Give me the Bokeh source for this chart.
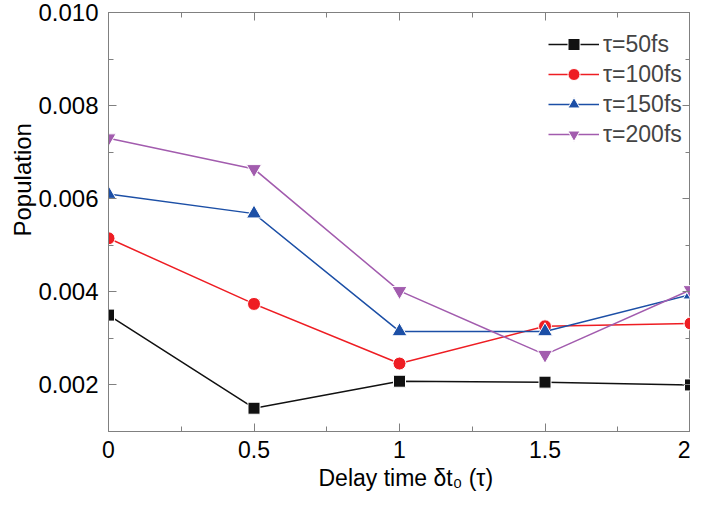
from bokeh.plotting import figure
from bokeh.models import (FixedTicker, LinearAxis, Legend, LegendItem, Title,
                          PrintfTickFormatter, CustomJSTickFormatter, Range1d)
from bokeh.embed import file_html
from bokeh.resources import INLINE

# ---- data ----
delay = [0, 0.5, 1, 1.5, 2]
pop_50 = [0.00350, 0.00150, 0.00208, 0.00206, 0.00200]
pop_100 = [0.00515, 0.00374, 0.00246, 0.00326, 0.00332]
pop_150 = [0.00610, 0.00568, 0.00315, 0.00315, 0.00394]
pop_200 = [0.00730, 0.00664, 0.00402, 0.00265, 0.00404]
series_labels = ["τ=50fs", "τ=100fs", "τ=150fs", "τ=200fs"]
x_ticks = [0, 0.5, 1, 1.5, 2]
x_minor = [0.25, 0.75, 1.25, 1.75]
y_ticks = [0.002, 0.004, 0.006, 0.008, 0.010]
y_minor = [0.001, 0.003, 0.005, 0.007, 0.009]

FONT = "Liberation Sans"
GRAY = "#808080"

p = figure(width=690, height=493, x_range=Range1d(0, 2), y_range=Range1d(0.001, 0.010),
           output_backend="svg", toolbar_location=None,
           min_border_left=108, min_border_right=0, min_border_top=12, min_border_bottom=61)
p.xgrid.visible = False
p.ygrid.visible = False
p.outline_line_color = GRAY
p.background_fill_color = "white"


def style_axis(ax, ticks, minor, size):
    ax.ticker = FixedTicker(ticks=ticks, minor_ticks=minor)
    ax.major_tick_in = 8
    ax.major_tick_out = 0
    ax.minor_tick_in = 5
    ax.minor_tick_out = 0
    ax.axis_line_color = GRAY
    ax.major_tick_line_color = GRAY
    ax.minor_tick_line_color = GRAY
    ax.major_label_text_font = FONT
    ax.major_label_text_font_size = size
    ax.major_label_text_color = "black"


xa = p.xaxis[0]
style_axis(xa, x_ticks, x_minor, "23px")
xa.formatter = CustomJSTickFormatter(code="return String(tick);")
xa.major_label_standoff = 9

ya = p.yaxis[0]
style_axis(ya, y_ticks, y_minor, "24px")
ya.formatter = PrintfTickFormatter(format="%.3f")
ya.major_label_standoff = 10

top = LinearAxis()
style_axis(top, x_ticks, x_minor, "0px")
top.major_label_standoff = 0
top.major_label_text_alpha = 0
p.add_layout(top, "above")

right = LinearAxis()
style_axis(right, y_ticks, y_minor, "0px")
right.major_label_standoff = 0
right.major_label_text_alpha = 0
p.add_layout(right, "right")

colors = ["#111111", "#ee1d23", "#1c4fa6", "#a25cae"]
markers = ["square", "circle", "triangle", "inverted_triangle"]
sizes = [12, 13, 15, 15]
data = [pop_50, pop_100, pop_150, pop_200]

items = []
for ys, c, m, s, lab in zip(data, colors, markers, sizes, series_labels):
    ln = p.line(delay, ys, line_color=c, line_width=1.5)
    sc = p.scatter(delay, ys, marker=m, size=s, fill_color=c, line_color="white", line_width=1)
    items.append(LegendItem(label=lab, renderers=[ln, sc]))

legend = Legend(items=items, location=(440, 282), border_line_color=None,
                background_fill_alpha=0, label_text_font=FONT, label_text_font_size="23px",
                glyph_width=51, glyph_height=30, label_height=30, spacing=0,
                padding=8, margin=0, label_standoff=4)
p.add_layout(legend)

p.add_layout(Title(text="Population", align="left", offset=195,
                   text_font=FONT, text_font_size="24px", text_font_style="normal",
                   text_color="black", standoff=0), "left")
p.add_layout(Title(text="Delay time δt₀ (τ)", align="left", offset=210,
                   text_font=FONT, text_font_size="23px", text_font_style="normal",
                   text_color="black", standoff=5), "below")

open("out.html", "w").write(file_html(p, INLINE))
